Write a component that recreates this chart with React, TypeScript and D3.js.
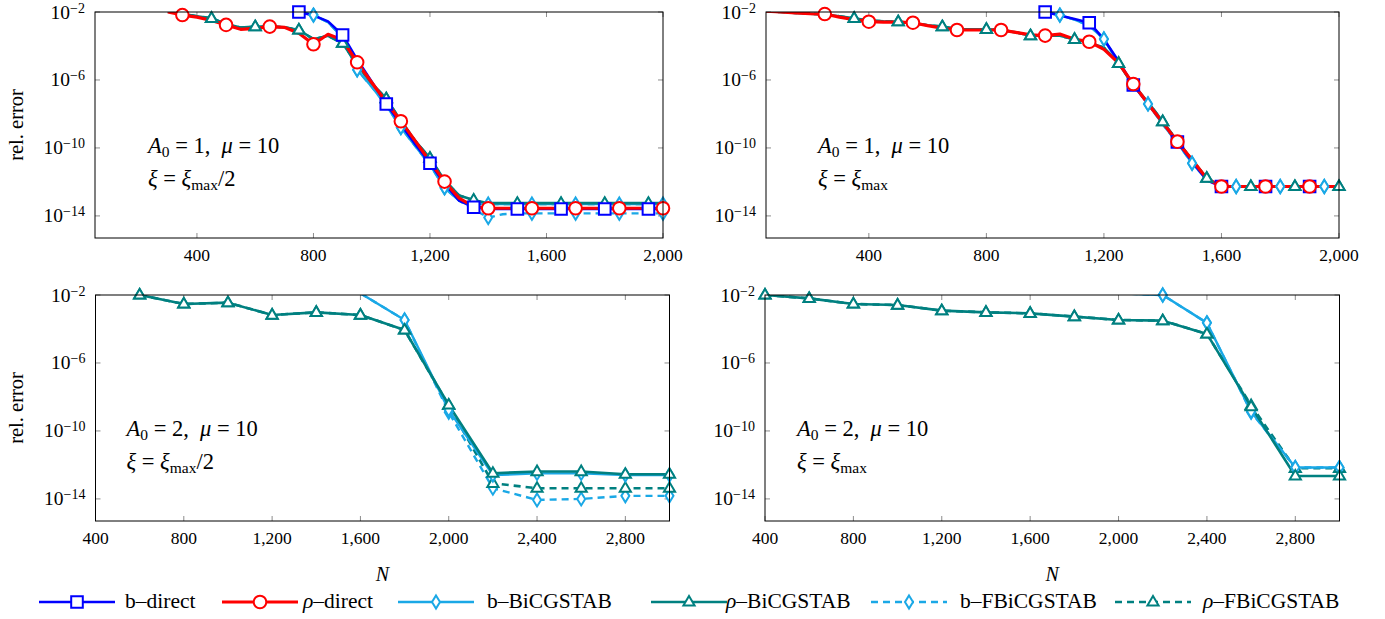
import React from 'react';
import * as d3 from 'd3';

// values are log10(rel. error); top row: one point every 50 in N, bottom row: every 200
const STEP_TOP = 50;
const STEP_BOTTOM = 200;
const MARK_EVERY_TOP = 150;
const MARK_EVERY_BOTTOM = 200;

// ---- top left: A0 = 1, mu = 10, xi = xi_max/2
const tlBDirect = { start: 700, markStart: 750, v: [-1.6, -2.0, -2.2, -2.55, -3.35, -4.8, -6.1, -7.41, -8.6, -9.8, -10.9, -12.1, -13.1, -13.49,
  -13.59, -13.59, -13.59, -13.59, -13.59, -13.59, -13.59, -13.59, -13.59, -13.59, -13.59, -13.59, -13.59] };
const tlRhoDirect = { start: 300, markStart: 350, v: [-2.0, -2.18, -2.3, -2.5, -2.76, -3.02, -2.96, -2.86, -2.9, -3.25, -3.9, -3.31, -3.65,
  -4.96, -6.15, -7.3, -8.43, -9.6, -10.8, -11.98, -12.95, -13.45, -13.55,
  -13.55, -13.55, -13.55, -13.55, -13.55, -13.55, -13.55, -13.55, -13.55, -13.55, -13.55, -13.55] };
const tlBBi = { start: 750, markStart: 800, v: [-1.9, -2.18, -2.6, -3.5, -5.4, -6.4, -7.5, -8.8, -9.9, -11.0, -12.35, -13.1, -13.3,
  -13.3, -13.3, -13.3, -13.3, -13.3, -13.3, -13.3, -13.3, -13.3, -13.3, -13.3, -13.3, -13.3] };
const tlRhoBi = { start: 300, markStart: 450, v: [-1.95, -2.1, -2.25, -2.37, -2.7, -2.92, -2.86, -2.85, -2.9, -3.06, -3.6, -3.4, -3.84,
  -5.1, -6.2, -7.1, -8.4, -9.6, -10.6, -11.9, -12.8, -13.06,
  -13.25, -13.25, -13.25, -13.25, -13.25, -13.25, -13.25, -13.25, -13.25, -13.25, -13.25, -13.25, -13.25] };
const tlBFBi = { start: 750, markStart: 800, v: [-1.9, -2.18, -2.6, -3.5, -5.4, -6.4, -7.5, -8.8, -9.9, -11.0, -12.35, -13.1, -13.6, -14.1, -13.9,
  -13.85, -13.85, -13.85, -13.85, -13.85, -13.85, -13.85, -13.85, -13.85, -13.85, -13.85] };
const tlRhoFBi = { start: 300, markStart: 450, v: [-1.95, -2.1, -2.25, -2.37, -2.7, -2.92, -2.86, -2.85, -2.9, -3.06, -3.6, -3.4, -3.84,
  -5.1, -6.2, -7.1, -8.4, -9.6, -10.6, -11.9, -12.8, -13.1,
  -13.3, -13.3, -13.3, -13.3, -13.3, -13.3, -13.3, -13.3, -13.3, -13.3, -13.3, -13.3, -13.3] };

// ---- top right: A0 = 1, mu = 10, xi = xi_max
const trBDirect = { start: 950, markStart: 1000, v: [-1.7, -2.0, -2.2, -2.41, -2.63, -3.6, -4.9, -6.3, -7.4, -8.5, -9.65, -10.8, -11.9, -12.27,
  -12.27, -12.27, -12.27, -12.27, -12.27, -12.27, -12.27, -12.27] };
const trRhoDirect = { start: 50, markStart: 250, v: [-1.95, -2.0, -2.05, -2.1, -2.12, -2.3, -2.45, -2.57, -2.6, -2.6,
  -2.63, -2.8, -2.95, -3.06, -3.06, -3.06, -3.06, -3.2, -3.35, -3.39,
  -3.3, -3.6, -3.75, -4.2, -5.0, -6.24, -7.4, -8.5, -9.63, -10.7, -11.8, -12.27,
  -12.27, -12.27, -12.27, -12.27, -12.27, -12.27, -12.27, -12.27] };
const trBBi = { start: 1000, markStart: 1050, v: [-1.9, -2.18, -2.45, -2.8, -3.59, -5.0, -6.3, -7.41, -8.6, -9.7, -10.9, -11.85, -12.27,
  -12.27, -12.27, -12.27, -12.27, -12.27, -12.27, -12.27, -12.27] };
const trRhoBi = { start: 50, markStart: 350, v: [-1.95, -2.0, -2.05, -2.1, -2.15, -2.25, -2.37, -2.5, -2.55, -2.57,
  -2.65, -2.78, -2.86, -3.0, -3.02, -3.02, -3.05, -3.2, -3.39, -3.4,
  -3.4, -3.61, -3.8, -4.1, -5.02, -6.3, -7.3, -8.45, -9.6, -10.7, -11.78, -12.27,
  -12.27, -12.27, -12.27, -12.27, -12.27, -12.27, -12.27, -12.27] };
// the F-variants lie under the plain ones in this panel
const trBFBi = trBBi;
const trRhoFBi = trRhoBi;

// ---- bottom left: A0 = 2, mu = 10, xi = xi_max/2
const blRhoBi = { start: 600, markStart: 600, v: [-2.0, -2.53, -2.45, -3.18, -3.02, -3.18, -4.06, -8.47, -12.49, -12.39, -12.39, -12.55, -12.55] };
const blRhoFBi = { start: 600, markStart: 600, v: [-2.0, -2.53, -2.45, -3.18, -3.02, -3.18, -4.06, -8.5, -13.08, -13.37, -13.37, -13.37, -13.37] };
const blBBi = { start: 1600, markStart: 1600, v: [-1.9, -3.47, -8.76, -12.6, -12.5, -12.5, -12.6, -12.6] };
const blBFBi = { start: 1600, markStart: 1600, v: [-1.9, -3.47, -8.9, -13.37, -14.06, -14.0, -13.82, -13.82] };

// ---- bottom right: A0 = 2, mu = 10, xi = xi_max
const brRhoBi = { start: 400, markStart: 400, v: [-2.0, -2.2, -2.53, -2.59, -2.92, -3.02, -3.08, -3.27, -3.47, -3.51, -4.29, -8.57, -12.65, -12.65] };
const brRhoFBi = { start: 400, markStart: 400, v: [-2.0, -2.2, -2.53, -2.59, -2.92, -3.02, -3.08, -3.27, -3.47, -3.51, -4.29, -8.5, -12.2, -12.2] };
const brBBi = { start: 2000, markStart: 2000, v: [-1.9, -2.0, -3.64, -8.86, -12.15, -12.15] };
const brBFBi = { start: 2000, markStart: 2000, v: [-1.9, -2.0, -3.64, -8.9, -12.15, -12.15] };

const xTicksTop = [400, 800, 1200, 1600, 2000];
const xTicksBottom = [400, 800, 1200, 1600, 2000, 2400, 2800];
const yTickExps = [-2, -6, -10, -14];
const Y_EXP_MAX = -2;
const Y_EXP_MIN = -15.3;

const legendNames = ['b\u2013direct', '\u03c1\u2013direct', 'b\u2013BiCGSTAB', '\u03c1\u2013BiCGSTAB', 'b\u2013FBiCGSTAB', '\u03c1\u2013FBiCGSTAB'];
const legendKeys = ['bDirect', 'rhoDirect', 'bBi', 'rhoBi', 'bFBi', 'rhoFBi'];

const LIGHT = '#1aa8e6';
const TEAL = '#008080';
const styles = {
  bDirect: { color: '#0000ff', dash: null, marker: 'square', width: 2.6 },
  rhoDirect: { color: '#ff0000', dash: null, marker: 'circle', width: 3.2 },
  bBi: { color: LIGHT, dash: null, marker: 'diamond', width: 2.4 },
  rhoBi: { color: TEAL, dash: null, marker: 'triangle', width: 2.6 },
  bFBi: { color: LIGHT, dash: '7,5', marker: 'diamond', width: 2.4 },
  rhoFBi: { color: TEAL, dash: '7,5', marker: 'triangle', width: 2.6 },
};
const drawOrder = ['bFBi', 'rhoFBi', 'bBi', 'rhoBi', 'bDirect', 'rhoDirect'];

const panels = [
  {
    id: 'tl', box: { l: 95, r: 663, t: 12, b: 238 }, xDomain: [50, 2000], xTicks: xTicksTop,
    step: STEP_TOP, markEvery: MARK_EVERY_TOP, a0: '1', xiTail: '/2', yLabel: true, xLabel: false, note: { dx: 53, dy: 141 },
    series: { bDirect: tlBDirect, rhoDirect: tlRhoDirect, bBi: tlBBi, rhoBi: tlRhoBi, bFBi: tlBFBi, rhoFBi: tlRhoFBi },
  },
  {
    id: 'tr', box: { l: 766, r: 1339, t: 12, b: 238 }, xDomain: [50, 2000], xTicks: xTicksTop,
    step: STEP_TOP, markEvery: MARK_EVERY_TOP, a0: '1', xiTail: '', yLabel: false, xLabel: false, note: { dx: 52, dy: 141 },
    series: { bDirect: trBDirect, rhoDirect: trRhoDirect, bBi: trBBi, rhoBi: trRhoBi, bFBi: trBFBi, rhoFBi: trRhoFBi },
  },
  {
    id: 'bl', box: { l: 95.5, r: 669.5, t: 295, b: 521 }, xDomain: [400, 3000], xTicks: xTicksBottom,
    step: STEP_BOTTOM, markEvery: MARK_EVERY_BOTTOM, a0: '2', xiTail: '/2', yLabel: true, xLabel: true, note: { dx: 31, dy: 141 },
    series: { bBi: blBBi, rhoBi: blRhoBi, bFBi: blBFBi, rhoFBi: blRhoFBi },
  },
  {
    id: 'br', box: { l: 765, r: 1339.5, t: 295, b: 521 }, xDomain: [400, 3000], xTicks: xTicksBottom,
    step: STEP_BOTTOM, markEvery: MARK_EVERY_BOTTOM, a0: '2', xiTail: '', yLabel: false, xLabel: true, note: { dx: 32, dy: 141 },
    series: { bBi: brBBi, rhoBi: brRhoBi, bFBi: brBFBi, rhoFBi: brRhoFBi },
  },
];

// legend layout (marker centre, text start)
const legendMarkX = [77, 260, 436, 689, 909, 1153];
const legendTextX = [125, 303, 487, 726, 960, 1203];
const LEGEND_Y = 602;

const serif = { fontFamily: "'Liberation Serif'" };

function Marker({ shape, color, x, y }) {
  const common = { fill: '#fff', stroke: color, strokeWidth: 2 };
  if (shape === 'circle') return <circle cx={x} cy={y} r={6.3} {...common} />;
  let d = '';
  if (shape === 'square') d = 'M-5.8,-5.8H5.8V5.8H-5.8Z';
  if (shape === 'diamond') d = 'M0,-6.5L4,0L0,6.5L-4,0Z';
  if (shape === 'triangle') d = 'M0,-6L5.6,3.6H-5.6Z';
  return <path d={d} transform={`translate(${x},${y})`} {...common} strokeLinejoin="miter" />;
}

function Panel({ p }) {
  const { box } = p;
  const x = d3.scaleLinear().domain(p.xDomain).range([box.l, box.r]);
  const y = d3.scaleLog().domain([10 ** Y_EXP_MIN, 10 ** Y_EXP_MAX]).range([box.b, box.t]);
  const line = d3.line().x(d => x(d[0])).y(d => y(10 ** d[1]));
  const fmt = d3.format(',');
  const clipId = `clip-${p.id}`;

  const pts = (s) => s.v.map((v, i) => [s.start + i * p.step, v]);

  return (
    <g>
      <defs>
        <clipPath id={clipId}>
          <rect x={box.l} y={box.t} width={box.r - box.l} height={box.b - box.t} />
        </clipPath>
      </defs>
      {/* ticks, inward on all four sides */}
      {p.xTicks.map(t => (
        <g key={`xt${t}`} stroke="#8c8c8c" strokeWidth={1}>
          <line x1={x(t)} x2={x(t)} y1={box.b} y2={box.b - 5} />
          <line x1={x(t)} x2={x(t)} y1={box.t} y2={box.t + 5} />
        </g>
      ))}
      {yTickExps.map(e => (
        <g key={`yt${e}`} stroke="#8c8c8c" strokeWidth={1}>
          <line x1={box.l} x2={box.l + 5} y1={y(10 ** e)} y2={y(10 ** e)} />
          <line x1={box.r} x2={box.r - 5} y1={y(10 ** e)} y2={y(10 ** e)} />
        </g>
      ))}
      {/* lines */}
      <g clipPath={`url(#${clipId})`}>
        {drawOrder.filter(k => p.series[k]).map(k => (
          <path key={`l${k}`} d={line(pts(p.series[k]))} fill="none" stroke={styles[k].color}
            strokeWidth={styles[k].width} strokeDasharray={styles[k].dash || undefined} strokeLinejoin="round" />
        ))}
      </g>
      {/* marks */}
      {drawOrder.filter(k => p.series[k]).map(k => {
        const s = p.series[k];
        return (
          <g key={`m${k}`}>
            {pts(s).filter(d => d[0] >= s.markStart && (d[0] - s.markStart) % p.markEvery === 0 && d[1] <= -1.98)
              .map(d => <Marker key={d[0]} shape={styles[k].marker} color={styles[k].color} x={x(d[0])} y={y(10 ** d[1])} />)}
          </g>
        );
      })}
      <rect x={box.l} y={box.t} width={box.r - box.l} height={box.b - box.t} fill="none" stroke="#000" strokeWidth={1} />
      {/* tick labels */}
      {p.xTicks.map(t => (
        <text key={`xl${t}`} x={x(t)} y={box.b + 23} textAnchor="middle" fontSize={17.5} style={serif}>{fmt(t)}</text>
      ))}
      {yTickExps.map(e => (
        <text key={`yl${e}`} x={box.l - 10} y={y(10 ** e) + 6.5} textAnchor="end" fontSize={19.5} style={serif}>
          10<tspan fontSize={14} dy={-6}>{`\u2212${-e}`}</tspan>
        </text>
      ))}
      {p.yLabel && (
        <text transform={`translate(23,${(box.t + box.b) / 2}) rotate(-90)`} textAnchor="middle" fontSize={20.5} style={serif}>rel. error</text>
      )}
      {p.xLabel && (
        <text x={(box.l + box.r) / 2} y={581} textAnchor="middle" fontSize={20} fontStyle="italic" style={serif}>N</text>
      )}
      {/* parameter note */}
      <text x={box.l + p.note.dx} y={box.t + p.note.dy} fontSize={22.5} style={{ ...serif, whiteSpace: 'pre' }}>
        <tspan fontStyle="italic">A</tspan>
        <tspan fontSize={15.5} dy={4}>0</tspan>
        <tspan dy={-4}>{` = ${p.a0},  `}</tspan>
        <tspan fontStyle="italic">{'\u03bc'}</tspan>
        <tspan>{' = 10'}</tspan>
      </text>
      <text x={box.l + p.note.dx} y={box.t + p.note.dy + 33} fontSize={22.5} style={{ ...serif, whiteSpace: 'pre' }}>
        <tspan fontStyle="italic">{'\u03be'}</tspan>
        <tspan>{' = '}</tspan>
        <tspan fontStyle="italic">{'\u03be'}</tspan>
        <tspan fontSize={15.5} dy={4}>max</tspan>
        <tspan dy={-4}>{p.xiTail}</tspan>
      </text>
    </g>
  );
}

export default function App() {
  return (
    <svg width={1385} height={619} style={{ position: 'absolute', left: 0, top: 0, background: '#fff' }}>
      {panels.map(p => <Panel key={p.id} p={p} />)}
      {legendKeys.map((k, i) => (
        <g key={k}>
          <line x1={legendMarkX[i] - 38} x2={legendMarkX[i] + 38} y1={LEGEND_Y} y2={LEGEND_Y}
            stroke={styles[k].color} strokeWidth={styles[k].width} strokeDasharray={styles[k].dash || undefined} />
          <Marker shape={styles[k].marker} color={styles[k].color} x={legendMarkX[i]} y={LEGEND_Y} />
          <text x={legendTextX[i]} y={LEGEND_Y + 6} fontSize={21.5} style={serif}>
            {legendNames[i].startsWith('\u03c1')
              ? <><tspan fontStyle="italic">{'\u03c1'}</tspan>{legendNames[i].slice(1)}</>
              : legendNames[i]}
          </text>
        </g>
      ))}
    </svg>
  );
}
